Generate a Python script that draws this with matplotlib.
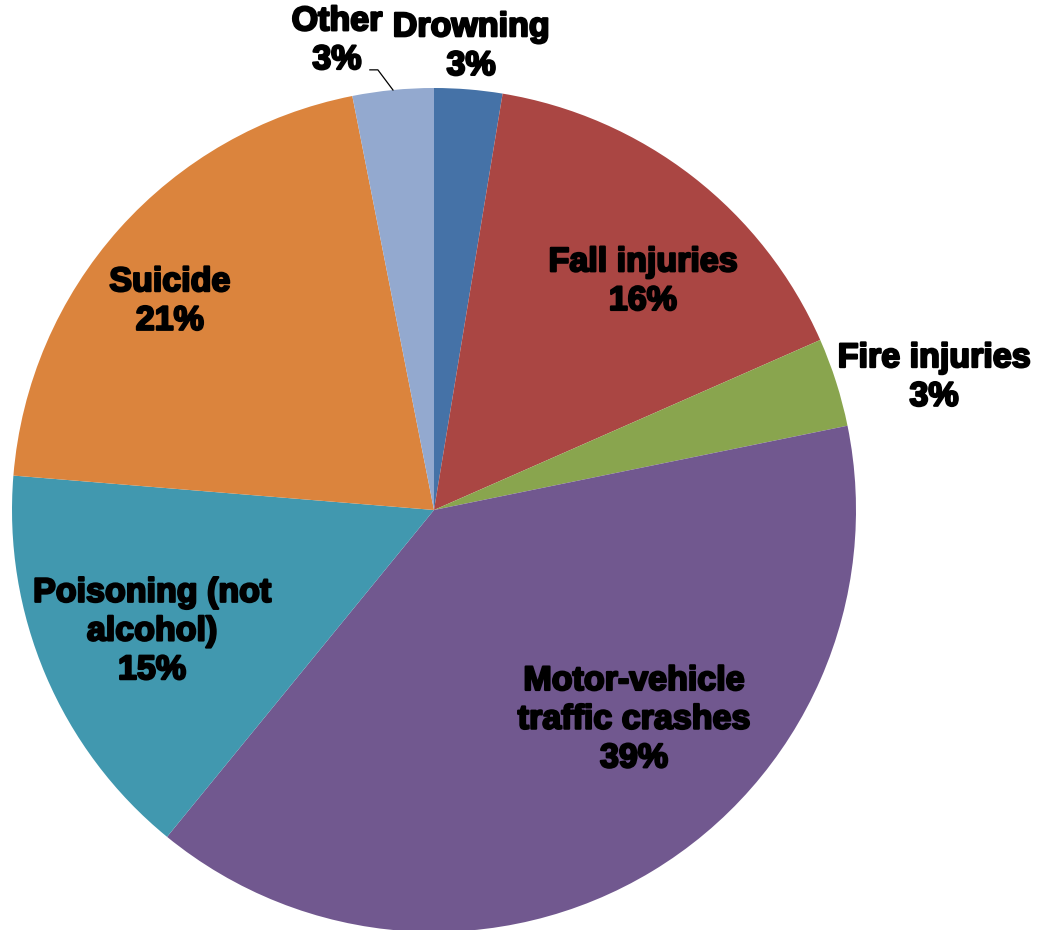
import matplotlib
matplotlib.use("Agg")
import matplotlib.pyplot as plt
import matplotlib.patheffects as pe
import numpy as np

# === Injury death causes ===
causes = ["Drowning", "Fall injuries", "Fire injuries",
          "Motor-vehicle\ntraffic crashes", "Poisoning (not\nalcohol)",
          "Suicide", "Other"]
shares = [2.6, 15.8, 3.4, 39.1, 15.4, 20.6, 3.1]
colors = ["#4572A7", "#AA4643", "#89A54E", "#71588F",
          "#4198AF", "#DB843D", "#93A9CF"]

# label placement (data coords, pie radius = 1)
label_pos = [(0.088, 1.097), (0.495, 0.540), (1.185, 0.313), (0.474, -0.498),
             (-0.668, -0.289), (-0.626, 0.493), (-0.230, 1.111)]

fig = plt.figure(figsize=(10.38, 9.30), dpi=100)
ax = fig.add_axes([12 / 1038, -2 / 930, 844 / 1038, 844 / 930])

wedges, _ = ax.pie(shares, colors=colors, startangle=90, counterclock=False,
                   radius=1.0, wedgeprops=dict(linewidth=0))
ax.set_xlim(-1, 1)
ax.set_ylim(-1, 1)
ax.set_aspect("equal")
ax.axis("off")

heavy = [pe.withStroke(linewidth=1.6, foreground="black")]
for name, val, (x, y) in zip(causes, shares, label_pos):
    ax.text(x, y, f"{name}\n{val:.0f}%", ha="center", va="center",
            fontsize=24.5, fontweight="bold", family="Liberation Sans",
            color="black", linespacing=1.32, path_effects=heavy,
            clip_on=False)

# leader line for the small "Other" slice
w = wedges[-1]
mid = np.deg2rad((w.theta1 + w.theta2) / 2)
ax.plot([-0.152, -0.133, np.cos(mid) * 1.0], [1.043, 1.043, np.sin(mid) * 1.0],
        color="black", lw=0.9, clip_on=False)

fig.savefig("out.png", dpi=100)
